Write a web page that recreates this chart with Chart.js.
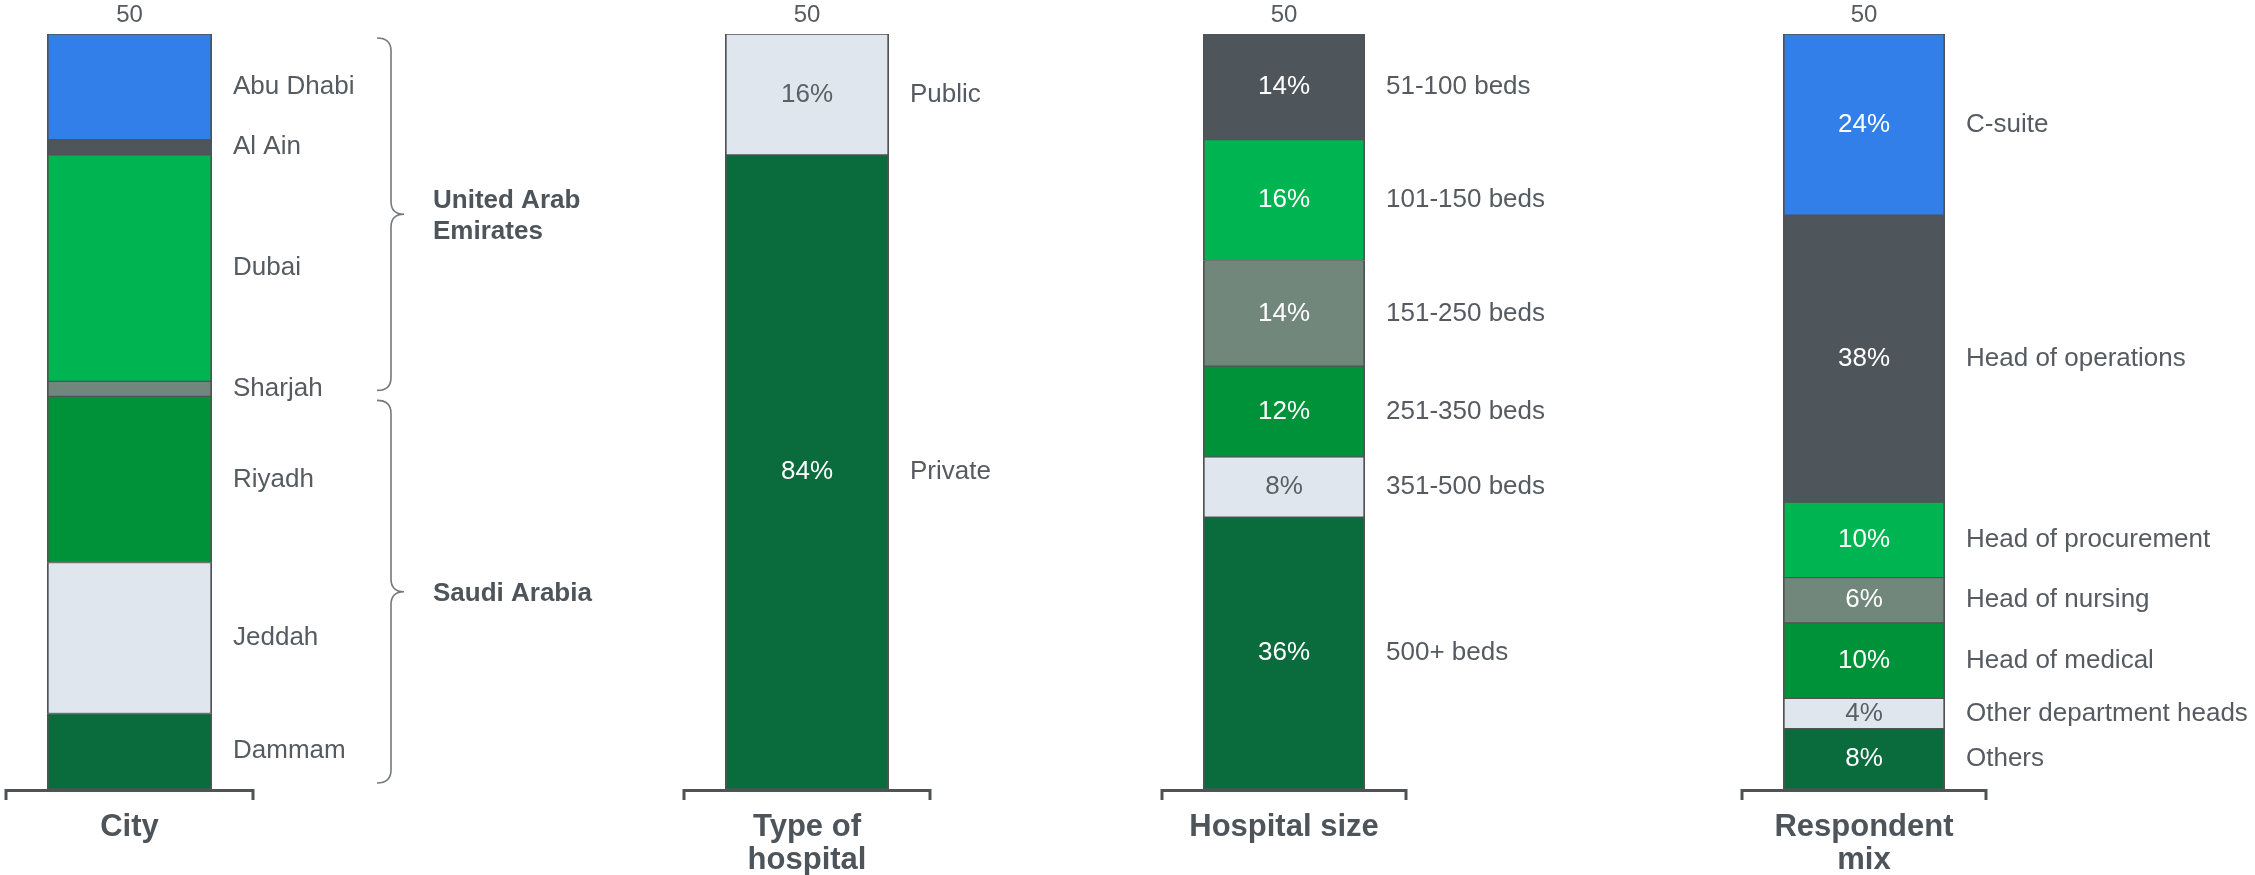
<!DOCTYPE html>
<html lang="en">
<head>
    <meta charset="UTF-8">
    <title>Survey sample profile</title>
    <script src="https://cdn.jsdelivr.net/npm/chart.js"></script>
    <style>
        html, body {
            margin: 0;
            padding: 0;
            background: #fff;
            overflow: hidden;
        }
        .painel {
            position: absolute;
            top: 0;
        }
    </style>
</head>
<body>
    <canvas id="cityChart" class="painel" width="660" height="875" style="left:0px"></canvas>
    <canvas id="typeChart" class="painel" width="480" height="875" style="left:660px"></canvas>
    <canvas id="sizeChart" class="painel" width="560" height="875" style="left:1140px"></canvas>
    <canvas id="roleChart" class="painel" width="555" height="875" style="left:1700px"></canvas>

    <script>
        // data (percent of respondents, listed top to bottom)
        const cityLabels = ['Abu Dhabi', 'Al Ain', 'Dubai', 'Sharjah', 'Riyadh', 'Jeddah', 'Dammam'];
        const cityValues = [14, 2, 30, 2, 22, 20, 10];
        const countryNames = [['United Arab', 'Emirates'], ['Saudi Arabia']];
        const countryCityCount = [4, 3];

        const typeLabels = ['Public', 'Private'];
        const typeValues = [16, 84];

        const sizeLabels = ['51-100 beds', '101-150 beds', '151-250 beds', '251-350 beds', '351-500 beds', '500+ beds'];
        const sizeValues = [14, 16, 14, 12, 8, 36];

        const roleLabels = ['C-suite', 'Head of operations', 'Head of procurement', 'Head of nursing', 'Head of medical', 'Other department heads', 'Others'];
        const roleValues = [24, 38, 10, 6, 10, 4, 8];

        const panelTitles = [['City'], ['Type of', 'hospital'], ['Hospital size'], ['Respondent', 'mix']];
        const sampleSizes = [50, 50, 50, 50];

        // colours
        const AZUL = '#327fea', CINZA = '#4e555b', VERDE_CLARO = '#00b551', CINZA_VERDE = '#71877b',
              VERDE = '#009239', CLARO = '#dfe6ed', VERDE_ESCURO = '#0a6b3c';
        const corTexto = '#555b60';
        const corTitulo = '#4d545a';
        const corBorda = '#505356';
        const FONTE = '"Liberation Sans", Arial, Helvetica, sans-serif';

        const panels = [
            { id: 'cityChart', labels: cityLabels, values: cityValues, pct: false,
              colors: [AZUL, CINZA, VERDE_CLARO, CINZA_VERDE, VERDE, CLARO, VERDE_ESCURO], pad: [47, 448] },
            { id: 'typeChart', labels: typeLabels, values: typeValues, pct: true,
              colors: [CLARO, VERDE_ESCURO], pad: [65, 251] },
            { id: 'sizeChart', labels: sizeLabels, values: sizeValues, pct: true,
              colors: [CINZA, VERDE_CLARO, CINZA_VERDE, VERDE, CLARO, VERDE_ESCURO], pad: [63, 335] },
            { id: 'roleChart', labels: roleLabels, values: roleValues, pct: true,
              colors: [AZUL, CINZA, VERDE_CLARO, CINZA_VERDE, VERDE, CLARO, VERDE_ESCURO], pad: [83, 310] }
        ];

        function drawBrace(ctx, x, top, bottom) {
            var mid = (top + bottom) / 2, r = 13;
            ctx.beginPath();
            ctx.moveTo(x, top);
            ctx.quadraticCurveTo(x + r + 1, top, x + r + 1, top + r);
            ctx.lineTo(x + r + 1, mid - r);
            ctx.quadraticCurveTo(x + r + 1, mid, x + 2 * r + 1, mid);
            ctx.quadraticCurveTo(x + r + 1, mid, x + r + 1, mid + r);
            ctx.lineTo(x + r + 1, bottom - r);
            ctx.quadraticCurveTo(x + r + 1, bottom, x, bottom);
            ctx.stroke();
        }

        const segmentLabels = {
            id: 'segmentLabels',
            afterDatasetsDraw(chart, args, opts) {
                var ctx = chart.ctx;
                var p = opts.panel;
                var bars = chart.data.datasets.map(function (d, i) { return chart.getDatasetMeta(i).data[0]; });
                var first = bars[0];
                var cx = first.x, half = first.width / 2;
                var barTop = Math.min(first.y, first.base);
                var barBottom = chart.scales.y.getPixelForValue(100);

                ctx.save();
                ctx.textBaseline = 'middle';

                bars.forEach(function (bar, i) {
                    var cy = (bar.y + bar.base) / 2;
                    if (p.pct) {
                        ctx.font = '26px ' + FONTE;
                        ctx.textAlign = 'center';
                        ctx.fillStyle = p.colors[i] === CLARO ? '#5a6066' : '#ffffff';
                        ctx.fillText(p.values[i] + '%', cx, cy);
                    }
                    ctx.font = '26px ' + FONTE;
                    ctx.textAlign = 'left';
                    ctx.fillStyle = corTexto;
                    ctx.fillText(p.labels[i], cx + half + 21, cy);
                });

                // sample size above the bar
                ctx.font = '24px ' + FONTE;
                ctx.textAlign = 'center';
                ctx.fillStyle = corTexto;
                ctx.fillText(String(sampleSizes[p.index]), cx, barTop - 19);

                // base bracket
                ctx.strokeStyle = corBorda;
                ctx.lineWidth = 3;
                ctx.beginPath();
                ctx.moveTo(cx - half - 41, barBottom + 11);
                ctx.lineTo(cx - half - 41, barBottom + 1.5);
                ctx.lineTo(cx + half + 41, barBottom + 1.5);
                ctx.lineTo(cx + half + 41, barBottom + 11);
                ctx.stroke();

                // panel title
                ctx.font = 'bold 31px ' + FONTE;
                ctx.fillStyle = corTitulo;
                panelTitles[p.index].forEach(function (line, k) {
                    ctx.fillText(line, cx, barBottom + 38 + k * 33);
                });

                // country braces for the city panel
                if (p.index === 0) {
                    var start = 0;
                    ctx.strokeStyle = '#74797d';
                    ctx.lineWidth = 1.6;
                    countryCityCount.forEach(function (n, g) {
                        var topBar = bars[start], botBar = bars[start + n - 1];
                        var y0 = Math.min(topBar.y, topBar.base) + 4;
                        var y1 = Math.max(botBar.y, botBar.base) - 6;
                        var bx = cx + half + 165;
                        drawBrace(ctx, bx, y0, y1);
                        var mid = (y0 + y1) / 2;
                        var lines = countryNames[g];
                        ctx.font = 'bold 26px ' + FONTE;
                        ctx.fillStyle = corTitulo;
                        ctx.textAlign = 'left';
                        lines.forEach(function (line, k) {
                            ctx.fillText(line, cx + half + 221, mid + (k - (lines.length - 1) / 2) * 31 + 2);
                        });
                        start += n;
                    });
                }
                ctx.restore();
            }
        };

        panels.forEach(function (p, index) {
            p.index = index;
            var ctx = document.getElementById(p.id).getContext('2d');
            new Chart(ctx, {
                type: 'bar',
                data: {
                    labels: [''],
                    datasets: p.values.map(function (v, i) {
                        return {
                            label: p.labels[i],
                            data: [v],
                            backgroundColor: p.colors[i],
                            borderColor: corBorda,
                            borderWidth: { top: 1, bottom: 1, left: 2, right: 2 },
                            borderSkipped: false,
                            barPercentage: 1,
                            categoryPercentage: 1
                        };
                    })
                },
                options: {
                    responsive: false,
                    animation: false,
                    devicePixelRatio: 1,
                    layout: { padding: { top: 34, bottom: 86, left: p.pad[0], right: p.pad[1] } },
                    plugins: {
                        legend: { display: false },
                        tooltip: { enabled: false },
                        segmentLabels: { panel: p }
                    },
                    scales: {
                        x: { stacked: true, display: false },
                        y: { stacked: true, display: false, min: 0, max: 100, reverse: true }
                    }
                },
                plugins: [segmentLabels]
            });
        });
    </script>
</body>
</html>
